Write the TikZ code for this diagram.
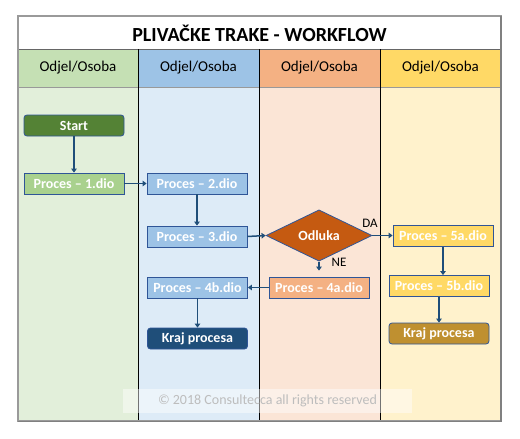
\documentclass[tikz,border=0pt]{standalone}
\usepackage{fontspec}
\setmainfont{Carlito}
\usetikzlibrary{shapes.geometric,arrows.meta}
\definecolor{laneA}{HTML}{E2EFDA}
\definecolor{laneB}{HTML}{DDEBF7}
\definecolor{laneC}{HTML}{FBE5D6}
\definecolor{laneD}{HTML}{FFF2CC}
\definecolor{headA}{HTML}{C5E0B4}
\definecolor{headB}{HTML}{9DC3E6}
\definecolor{headC}{HTML}{F4B183}
\definecolor{headD}{HTML}{FFD966}
\definecolor{nodeborder}{HTML}{2F5597}
\definecolor{arrowc}{HTML}{1F4E79}
\definecolor{startc}{HTML}{548235}
\definecolor{greenp}{HTML}{A9D18E}
\definecolor{bluep}{HTML}{9DC3E6}
\definecolor{orangep}{HTML}{F4B183}
\definecolor{yellowp}{HTML}{FFD966}
\definecolor{decc}{HTML}{C55A11}
\definecolor{endblue}{HTML}{1F4E79}
\definecolor{endgold}{HTML}{BF9030}
\definecolor{framec}{HTML}{9A9A9A}
\definecolor{wmark}{HTML}{BDBDBD}
\tikzset{
  proc/.style={draw=nodeborder, line width=0.8pt, minimum width=100pt, minimum height=21pt,
    inner sep=0pt, text=white, font=\fontsize{14}{14}\selectfont\bfseries},
  term/.style={proc, rounded corners=3pt},
  decision/.style={diamond, draw=nodeborder, line width=0.8pt, fill=decc, minimum width=106pt,
    minimum height=41pt, inner sep=0pt, text=white, font=\fontsize{14}{14}\selectfont\bfseries},
  conn/.style={draw=arrowc, line width=1.5pt, -{Triangle[length=4pt,width=5.5pt]}},
  lanehead/.style={font=\fontsize{15}{15}\selectfont, text=black},
  lbl/.style={font=\fontsize{13}{13}\selectfont, text=black}
}
\begin{document}
\begin{tikzpicture}[x=1pt,y=-1pt]
\useasboundingbox (0,0) rectangle (520,439);
% lanes
\fill[laneA] (18,87) rectangle (138,421);
\fill[laneB] (138,87) rectangle (259,421);
\fill[laneC] (259,87) rectangle (380,421);
\fill[laneD] (380,87) rectangle (501,421);
\fill[headA] (18,49) rectangle (138,87);
\fill[headB] (138,49) rectangle (259,87);
\fill[headC] (259,49) rectangle (380,87);
\fill[headD] (380,49) rectangle (501,87);
\fill[white] (18,16) rectangle (501,49);
% grid lines
\draw[black!60, line width=0.6pt] (18,49) -- (501,49);
\draw[black!40, line width=0.5pt] (18,87) -- (501,87);
\foreach \x in {138,259,380} \draw[black, line width=0.7pt] (\x,49) -- (\x,421);
\draw[framec, line width=1.3pt] (18,16) rectangle (501,421);
\draw[black!50, line width=2pt] (501,16) -- (501,422);
\draw[black!50, line width=1.6pt] (18,421.5) -- (502,421.5);
% title and headers
\node[font=\fontsize{20}{20}\selectfont\bfseries] (title) at (259.5,33) {PLIVAČKE TRAKE - WORKFLOW};
\node[lanehead] (h1) at (78,68) {Odjel/Osoba};
\node[lanehead] (h2) at (198.5,68) {Odjel/Osoba};
\node[lanehead] (h3) at (319.5,68) {Odjel/Osoba};
\node[lanehead] (h4) at (440.5,68) {Odjel/Osoba};
% nodes
\node[term, fill=startc] (start) at (74,125.5) {Start};
\node[proc, fill=greenp] (p1) at (74,183.5) {Proces – 1.dio};
\node[proc, fill=bluep] (p2) at (197,183.5) {Proces – 2.dio};
\node[proc, fill=bluep] (p3) at (197,236.5) {Proces – 3.dio};
\node[decision] (odl) at (319,235.5) {Odluka};
\node[proc, fill=orangep] (p4a) at (319,287.5) {Proces – 4a.dio};
\node[proc, fill=bluep] (p4b) at (197.5,287.5) {Proces – 4b.dio};
\node[term, fill=endblue] (end1) at (197.5,338.5) {Kraj procesa};
\node[proc, fill=yellowp] (p5a) at (443,236) {Proces – 5a.dio};
\node[proc, fill=yellowp] (p5b) at (439,286) {Proces – 5b.dio};
\node[term, fill=endgold] (end2) at (439,333.5) {Kraj procesa};
% connectors
\draw[conn] (start) -- (p1);
\draw[conn] (p1) -- (p2);
\draw[conn] (p2) -- (p3);
\draw[conn] (p3.east) -- (odl.west);
\draw[conn] (odl.east) -- (odl.east -| p5a.west);
\draw[conn, shorten >=6pt] (odl.south) -- (p4a.north);
\draw[conn] (p4a) -- (p4b);
\draw[conn] (p4b) -- (end1);
\draw[conn] (p5a.south) -- (p5a.south |- p5b.north);
\draw[conn] (p5b) -- (end2);
\node[lbl] (da) at (370,223) {DA};
\node[lbl] (ne) at (339,262.5) {NE};
% watermark
\fill[white, opacity=0.45] (123,389) rectangle (412,413);
\node[font=\fontsize{14}{14}\selectfont, text=wmark] (wm) at (267.5,400.5) {© 2018 Consultecca all rights reserved};
\end{tikzpicture}
\end{document}
